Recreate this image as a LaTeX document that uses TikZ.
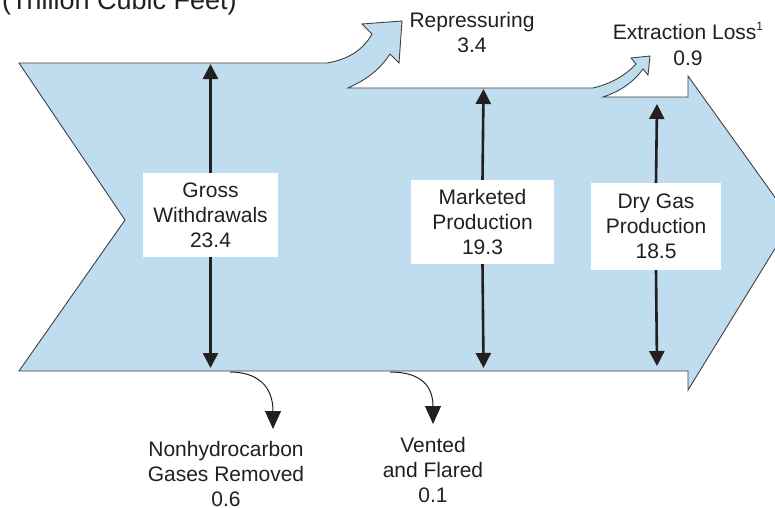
\documentclass[tikz,border=0pt]{standalone}
\usepackage{fontspec}
\setmainfont{Liberation Sans}
\usetikzlibrary{arrows.meta}
\definecolor{flow}{HTML}{C0DDEF}
\definecolor{ink}{HTML}{231F20}
\begin{document}
\begin{tikzpicture}[x=1pt,y=-1pt,
 lbl/.style={font=\fontsize{21}{25}\selectfont, text=ink, align=center, inner sep=0pt},
 valbox/.style={lbl, fill=white},
 flowarrow/.style={draw=ink, line width=2.6pt, -{Triangle[width=15pt,length=15pt]}},
 lossarrow/.style={draw=ink, line width=1pt, -{Triangle[width=16pt,length=18pt]}},
 flowshape/.style={fill=flow, draw=black!75, line width=0.9pt, line join=miter}
]
\useasboundingbox (0,0) rectangle (775,507);
\clip (0,0) rectangle (775,507);
% main flow shape
\path[flowshape] (19,63) -- (327,63)
  .. controls (345,60) and (362,52) .. (372,34)
  -- (362,24) -- (402,21) -- (399,63) -- (390,54)
  .. controls (378,72) and (365,80) .. (348,88)
  -- (593,88)
  .. controls (610,84) and (625,76) .. (636,64)
  -- (631,58) -- (650,56) -- (648,75) -- (643,69)
  .. controls (632,84) and (618,92) .. (603,97)
  -- (688,97) -- (688,76) -- (792,221) -- (688,390) -- (688,371)
  -- (19,371) -- (125,220) -- cycle;
% title (cut off at top)
\node[lbl, font=\fontsize{27}{30}\selectfont, anchor=base west] (title) at (2,9) {(Trillion Cubic Feet)};
% branch labels
\node[lbl] (rep) at (472,32) {Repressuring\\3.4};
\node[lbl] (ext) at (688,44) {Extraction Loss{\fontsize{12}{12}\selectfont\raisebox{9pt}{1}}\\[1pt]0.9};
% value boxes
\node[valbox, minimum width=135pt, minimum height=84pt] (gross) at (210.5,215) {Gross\\Withdrawals\\23.4};
\node[valbox, minimum width=143pt, minimum height=84pt] (mkt) at (482.5,222) {Marketed\\Production\\19.3};
\node[valbox, minimum width=130pt, minimum height=87pt] (dry) at (656,226.5) {Dry Gas\\Production\\18.5};
% arrow end points
\coordinate (gt) at (210.5,64);
\coordinate (gb) at (210.5,368);
\coordinate (mt) at (483.5,89);
\coordinate (mb) at (483.5,368);
\coordinate (dt) at (657,104);
\coordinate (db) at (657,366);
\draw[flowarrow] (gross.north) -- (gt);
\draw[flowarrow] (gross.south) -- (gb);
\draw[flowarrow] (mkt.north) -- (mt);
\draw[flowarrow] (mkt.south) -- (mb);
\draw[flowarrow] (dry.north) -- (dt);
\draw[flowarrow] (dry.south) -- (db);
% losses
\coordinate (n0) at (230,372);
\coordinate (n1) at (273,429);
\coordinate (v0) at (390,372);
\coordinate (v1) at (433,424);
\draw[lossarrow] (n0) .. controls (256,372) and (273,385) .. (n1);
\draw[lossarrow] (v0) .. controls (416,372) and (433,382) .. (v1);
\node[lbl] (nhc) at (226,474) {Nonhydrocarbon\\Gases Removed\\0.6};
\node[lbl] (vent) at (433,469.5) {Vented\\and Flared\\0.1};
\end{tikzpicture}
\end{document}
